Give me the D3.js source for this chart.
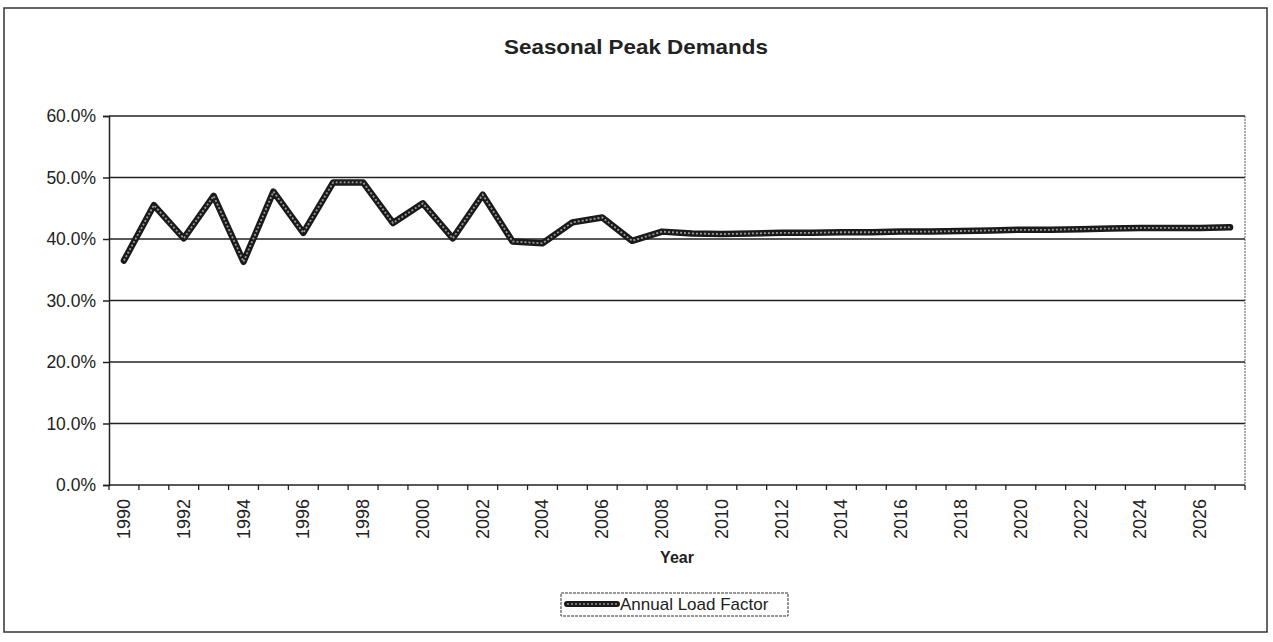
<!DOCTYPE html>
<html><head><meta charset="utf-8">
<script src="https://cdn.jsdelivr.net/npm/d3@7"></script>
<style>body{margin:0;background:#fff}svg{display:block}text{font-family:"Liberation Sans",Arial,sans-serif;fill:#222}</style>
</head><body>
<svg id="c" width="1273" height="642"></svg>
<script>
const years = d3.range(1990, 2028);
const loadFactor = [36.5,45.5,40.1,47.0,36.3,47.7,41.0,49.2,49.2,42.6,
  45.8,40.1,47.2,39.6,39.3,42.7,43.5,39.7,41.2,40.9,
  40.8,40.9,41.0,41.0,41.1,41.1,41.2,41.2,41.3,41.4,
  41.5,41.5,41.6,41.7,41.8,41.8,41.8,41.9];
const yTicks = [0,10,20,30,40,50,60];
const labelYears = years.filter(y => y % 2 === 0);

const svg = d3.select("#c");
const m = {l:109, r:1245, t:116, b:485};
const x = d3.scaleBand().domain(years).range([m.l, m.r]);
const y = d3.scaleLinear().domain([0,60]).range([m.b, m.t]);

// outer border
svg.append("rect").attr("x",4).attr("y",8).attr("width",1263).attr("height",624)
  .attr("fill","none").attr("stroke","#333").attr("stroke-width",1.5);

// title
svg.append("text").attr("x",636).attr("y",54).attr("text-anchor","middle")
  .attr("transform","translate(636,0) scale(1.12,1) translate(-636,0)")
  .style("font-size","20px").style("font-weight","bold").text("Seasonal Peak Demands");

// gridlines
svg.append("g").selectAll("line").data(yTicks.slice(1)).join("line")
  .attr("x1",m.l).attr("x2",m.r).attr("y1",d=>y(d)).attr("y2",d=>y(d))
  .attr("stroke","#222").attr("stroke-width",1.3);
// right plot border
svg.append("line").attr("x1",m.r).attr("x2",m.r).attr("y1",m.t).attr("y2",m.b)
  .attr("stroke","#555").attr("stroke-width",1).attr("stroke-dasharray","2,1");

// y axis
const ya = svg.append("g").attr("transform",`translate(${m.l},0)`)
  .call(d3.axisLeft(y).tickValues(yTicks).tickSize(6).tickPadding(7).tickFormat(d=>d3.format(".1f")(d)+"%"));
ya.selectAll("text").style("font-size","17.5px").attr("fill","#222");
ya.selectAll("line,path").attr("stroke","#222").attr("stroke-width",1.5);

// x axis with ticks between categories
const xa = svg.append("g").attr("transform",`translate(0,${m.b})`);
xa.append("line").attr("x1",m.l).attr("x2",m.r).attr("stroke","#222").attr("stroke-width",1.5);
xa.selectAll("line.t").data(years.concat([2028])).join("line").attr("class","t")
  .attr("x1",d=>d===2028? m.r : x(d)).attr("x2",d=>d===2028? m.r : x(d)).attr("y1",0).attr("y2",5)
  .attr("stroke","#222").attr("stroke-width",1.3);
xa.selectAll("text").data(labelYears).join("text")
  .attr("transform",d=>`translate(${x(d)+x.bandwidth()/2+6},14) rotate(-90)`)
  .attr("text-anchor","end").style("font-size","18px").text(d=>d);

svg.append("text").attr("x",677).attr("y",563).attr("text-anchor","middle")
  .style("font-size","16px").style("font-weight","bold").text("Year");

// line
const line = d3.line().x((d,i)=>x(years[i])+x.bandwidth()/2).y(d=>y(d));
svg.append("path").datum(loadFactor).attr("d",line).attr("fill","none")
  .attr("stroke","#1a1a1a").attr("stroke-width",6.5).attr("stroke-linejoin","round").attr("stroke-linecap","round");
svg.append("path").datum(loadFactor).attr("d",line).attr("fill","none")
  .attr("stroke","#9a9a9a").attr("stroke-width",1.8).attr("stroke-dasharray","2,2");

// legend
const lg = svg.append("g");
lg.append("rect").attr("x",561).attr("y",593).attr("width",227).attr("height",23)
  .attr("fill","none").attr("stroke","#333").attr("stroke-width",1).attr("stroke-dasharray","3,1");
lg.append("line").attr("x1",567).attr("x2",617).attr("y1",604).attr("y2",604)
  .attr("stroke","#1a1a1a").attr("stroke-width",6).attr("stroke-linecap","round");
lg.append("line").attr("x1",567).attr("x2",617).attr("y1",604).attr("y2",604)
  .attr("stroke","#9a9a9a").attr("stroke-width",1.6).attr("stroke-dasharray","2,2");
lg.append("text").attr("x",620).attr("y",610).style("font-size","17px").text("Annual Load Factor");
</script>
</body></html>
